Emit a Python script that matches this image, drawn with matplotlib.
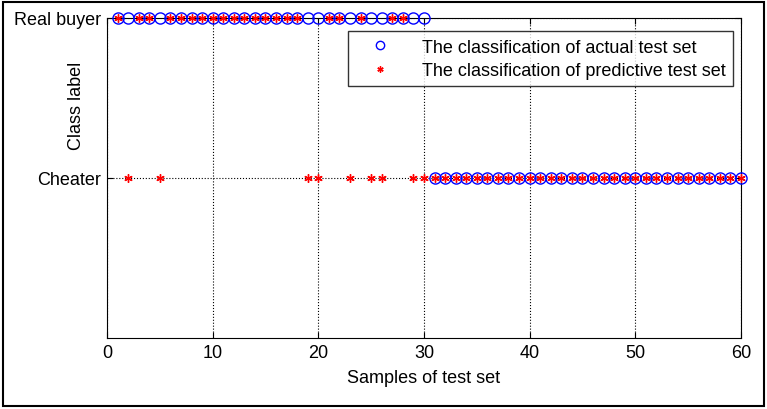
import matplotlib.pyplot as plt
import matplotlib.patches as mpatches

plt.rcParams['font.family'] = ['Liberation Sans', 'DejaVu Sans']

# class codes: 1 = Cheater, 2 = Real buyer
samples = list(range(1, 61))
actual = [2] * 30 + [1] * 30
cheater_pred = [2, 5, 19, 20, 23, 25, 26, 29, 30]
predicted = [1 if (s in cheater_pred or s > 30) else 2 for s in samples]

class_ticks = [1, 2]
class_names = ["Cheater", "Real buyer"]

fig = plt.figure(figsize=(7.67, 4.10), dpi=100)
ax = fig.add_axes([0.1395, 0.1732, 0.8265, 0.7805])

ax.plot(samples, actual, linestyle="none", marker="o", markersize=8,
        markerfacecolor="none", markeredgecolor="blue", markeredgewidth=1,
        label="The classification of actual test set", clip_on=False, zorder=3)
ax.plot(samples, predicted, linestyle="none", marker=(6, 2, 0), markersize=6,
        color="red", markeredgewidth=1,
        label="The classification of predictive test set",
        clip_on=False, zorder=4)

ax.set_xlim(0, 60)
ax.set_ylim(0, 2)
ax.set_xticks(range(0, 61, 10))
ax.set_yticks(class_ticks)
ax.set_yticklabels(class_names)
ax.tick_params(direction="in", labelsize=13, length=4, top=True, right=True, pad=4)
ax.grid(True, linestyle=":", color="black", linewidth=0.8)
ax.set_axisbelow(True)
ax.set_xlabel("Samples of test set", fontsize=13, labelpad=6)
ax.set_ylabel("Class label", fontsize=13)
ax.yaxis.set_label_coords(-0.034, 0.73)

leg = ax.legend(loc="upper right", bbox_to_anchor=(0.987, 0.958), fontsize=13,
                frameon=True, fancybox=False, borderaxespad=0,
                handletextpad=0.9, borderpad=0.4, labelspacing=0.35,
                handlelength=2.8, markerscale=0.75)
leg.get_frame().set_edgecolor("black")
leg.get_frame().set_linewidth(1)

fig.patches.append(mpatches.Rectangle((0.004, 0.008), 0.992, 0.985, transform=fig.transFigure,
                                      fill=False, edgecolor="black", linewidth=1.5))

plt.savefig("out.png", dpi=100)
